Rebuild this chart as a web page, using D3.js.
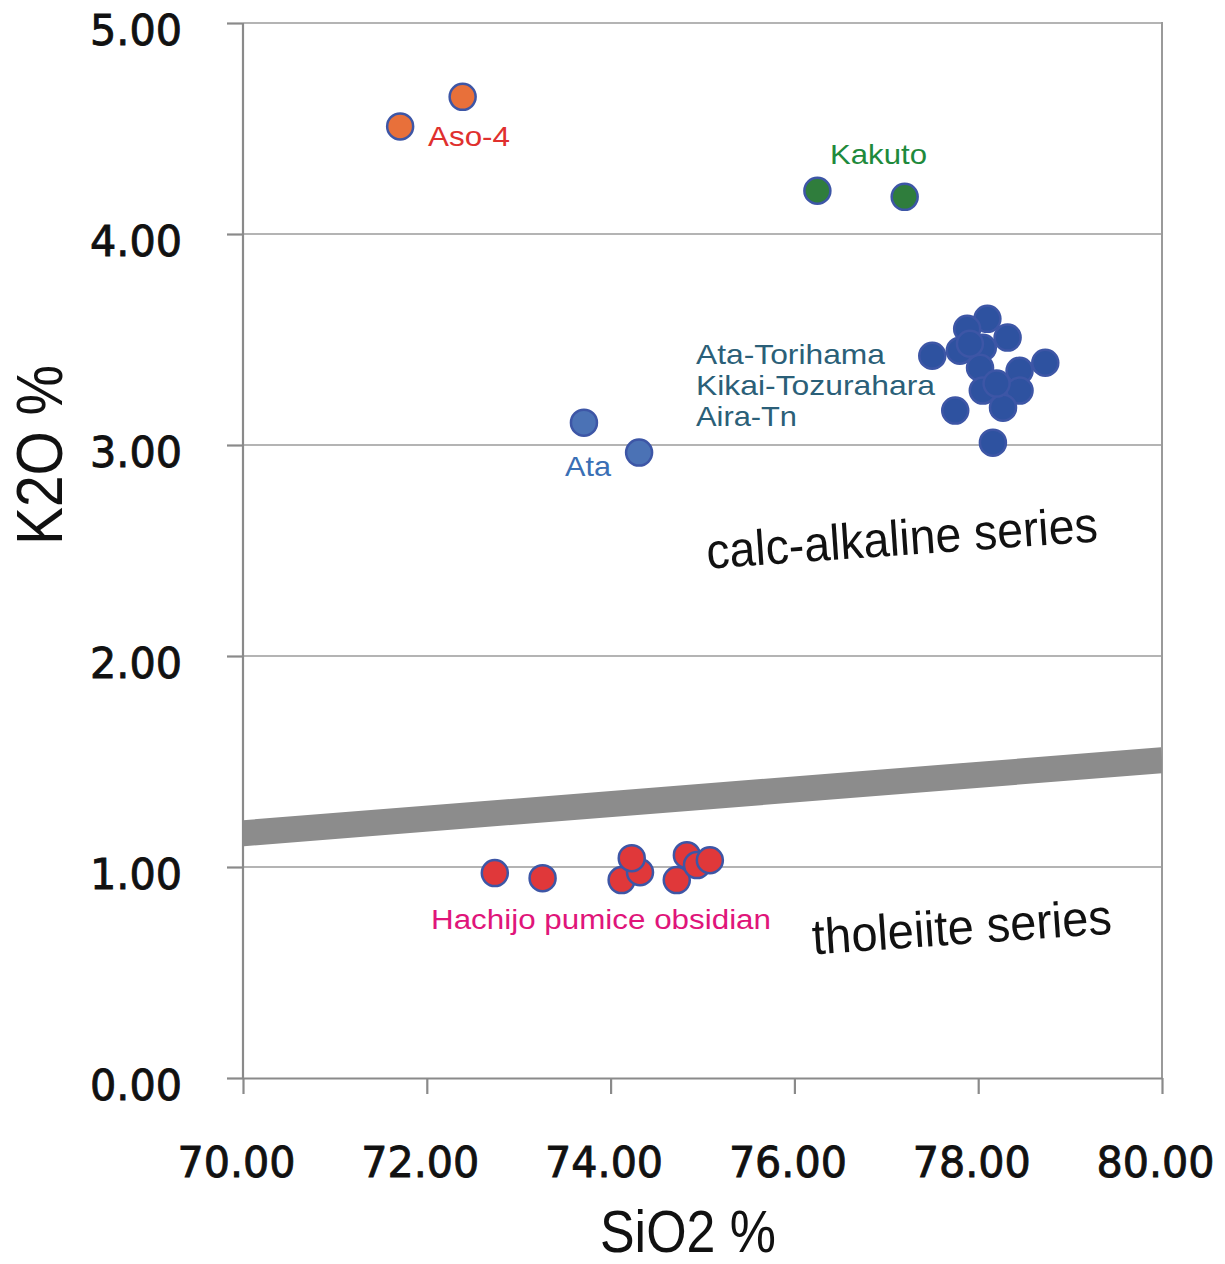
<!DOCTYPE html>
<html>
<head>
<meta charset="utf-8">
<script src="https://cdn.jsdelivr.net/npm/d3@7"></script>
<style>
  html, body { margin: 0; padding: 0; background: #fff; }
  svg { display: block; }
</style>
</head>
<body>
<svg id="chart" width="1225" height="1264"></svg>
<script>
// ---------- data ----------
const xTicks = [70, 72, 74, 76, 78, 80];
const yTicks = [0, 1, 2, 3, 4, 5];

const aso4 = [[71.71, 4.51], [72.39, 4.65]];
const kakuto = [[76.25, 4.205], [77.20, 4.176]];
const ata = [[73.71, 3.106], [74.31, 2.964]];
const cluster = [
  [77.50, 3.423], [77.75, 3.163], [78.16, 3.011], [78.73, 3.390],
  [78.10, 3.598], [77.88, 3.551], [78.32, 3.509], [77.80, 3.447],
  [78.05, 3.461], [78.02, 3.366], [78.45, 3.352], [78.05, 3.258],
  [78.45, 3.258], [78.27, 3.177], [78.20, 3.291], [77.91, 3.480]
];
const hachijo = [
  [72.74, 0.971], [73.26, 0.947], [74.12, 0.938], [74.32, 0.975],
  [74.23, 1.042], [74.72, 0.938], [74.83, 1.056], [74.94, 1.009],
  [75.08, 1.032]
];
const boundary = [[70, 1.16], [80, 1.506]];

// ---------- layout ----------
const svg = d3.select("#chart");
const x = d3.scaleLinear().domain([70, 80]).range([243, 1162]);
const y = d3.scaleLinear().domain([0, 5]).range([1078, 23]);

svg.append("rect").attr("width", 1225).attr("height", 1264).attr("fill", "#fff");

// gridlines
svg.append("g").selectAll("line").data(yTicks.filter(d => d > 0)).join("line")
  .attr("x1", x(70)).attr("x2", x(80))
  .attr("y1", d => y(d)).attr("y2", d => y(d))
  .attr("stroke", "#b4b4b4").attr("stroke-width", 2.2);

// right border
svg.append("line")
  .attr("x1", x(80)).attr("x2", x(80)).attr("y1", y(5) - 1).attr("y2", y(0))
  .attr("stroke", "#9a9a9a").attr("stroke-width", 2);

// boundary band
svg.append("defs").append("clipPath").attr("id", "plotclip")
  .append("rect").attr("x", x(70)).attr("y", y(5)).attr("width", x(80) - x(70)).attr("height", y(0) - y(5));
svg.append("path")
  .datum(boundary)
  .attr("clip-path", "url(#plotclip)")
  .attr("d", d3.line().x(d => x(d[0])).y(d => y(d[1])))
  .attr("stroke", "#8c8c8c").attr("stroke-width", 26).attr("fill", "none");

// axes
const fontTick = "DejaVu Sans, Verdana, sans-serif";
const yAxis = svg.append("g").attr("transform", `translate(${x(70)},0)`)
  .call(d3.axisLeft(y).tickValues(yTicks).tickSize(16).tickSizeOuter(0).tickPadding(45).tickFormat(d3.format(".2f")));
const xAxis = svg.append("g").attr("transform", `translate(0,${y(0)})`)
  .call(d3.axisBottom(x).tickValues(xTicks).tickSize(16).tickSizeOuter(0).tickPadding(52).tickFormat(d3.format(".2f")));
[yAxis, xAxis].forEach(g => {
  g.select(".domain").attr("stroke", "#8a8a8a").attr("stroke-width", 2.2);
  g.selectAll(".tick line").attr("stroke", "#8a8a8a").attr("stroke-width", 2.2);
  g.selectAll(".tick text").attr("font-family", fontTick).attr("font-size", 43)
    .attr("fill", "#111").attr("stroke", "#111").attr("stroke-width", 0.9);
});
yAxis.selectAll(".tick text").attr("dy", "0.5em").attr("textLength", 92).attr("lengthAdjust", "spacingAndGlyphs");
xAxis.selectAll(".tick text").attr("dy", "0.71em").attr("dx", -7).attr("textLength", 118).attr("lengthAdjust", "spacingAndGlyphs");
// extend y axis to top
yAxis.select(".domain").attr("d", `M0,${y(5)}V${y(0)}`);

// axis titles
const fontTitle = "Liberation Sans, Arial, Helvetica, sans-serif";
svg.append("text")
  .attr("transform", `translate(62,${(365 + 545) / 2}) rotate(-90)`)
  .attr("text-anchor", "middle").attr("font-family", fontTitle).attr("font-size", 64)
  .attr("fill", "#111").attr("textLength", 180).attr("lengthAdjust", "spacingAndGlyphs")
  .text("K2O %");
svg.append("text")
  .attr("x", 688).attr("y", 1252)
  .attr("text-anchor", "middle").attr("font-family", fontTitle).attr("font-size", 60)
  .attr("fill", "#111").attr("textLength", 176).attr("lengthAdjust", "spacingAndGlyphs")
  .text("SiO2 %");

// points
function drawPoints(data, fill) {
  svg.append("g").selectAll("circle").data(data).join("circle")
    .attr("cx", d => x(d[0])).attr("cy", d => y(d[1])).attr("r", 13)
    .attr("fill", fill).attr("stroke", "#3d56a6").attr("stroke-width", 2.5);
}
drawPoints(aso4, "#e8703a");
drawPoints(kakuto, "#2f7d3c");
drawPoints(ata, "#4b72b5");
drawPoints(cluster, "#2e52a0");
drawPoints(hachijo, "#e0383a");

// labels
function label(txt, px, py, color, size, len) {
  svg.append("text").attr("x", px).attr("y", py)
    .attr("font-family", fontTitle).attr("font-size", size).attr("fill", color)
    .attr("textLength", len).attr("lengthAdjust", "spacingAndGlyphs")
    .text(txt);
}
label("Aso-4", 428, 146, "#e0302e", 28, 82);
label("Kakuto", 830, 164, "#1e8a3c", 28, 97);
label("Ata-Torihama", 696, 364, "#2b5f78", 28, 189);
label("Kikai-Tozurahara", 696, 395, "#2b5f78", 28, 239);
label("Aira-Tn", 696, 426, "#2b5f78", 28, 101);
label("Ata", 565, 476, "#3a6fb5", 28, 46);
label("Hachijo pumice obsidian", 431, 929, "#e0157a", 27, 340);

// series text
svg.append("text")
  .attr("transform", "translate(903,555) rotate(-4)")
  .attr("text-anchor", "middle").attr("font-family", fontTitle).attr("font-size", 50)
  .attr("fill", "#111").attr("textLength", 392).attr("lengthAdjust", "spacingAndGlyphs")
  .text("calc-alkaline series");
svg.append("text")
  .attr("transform", "translate(963,944) rotate(-4)")
  .attr("text-anchor", "middle").attr("font-family", fontTitle).attr("font-size", 50)
  .attr("fill", "#111").attr("textLength", 300).attr("lengthAdjust", "spacingAndGlyphs")
  .text("tholeiite series");
</script>
</body>
</html>
